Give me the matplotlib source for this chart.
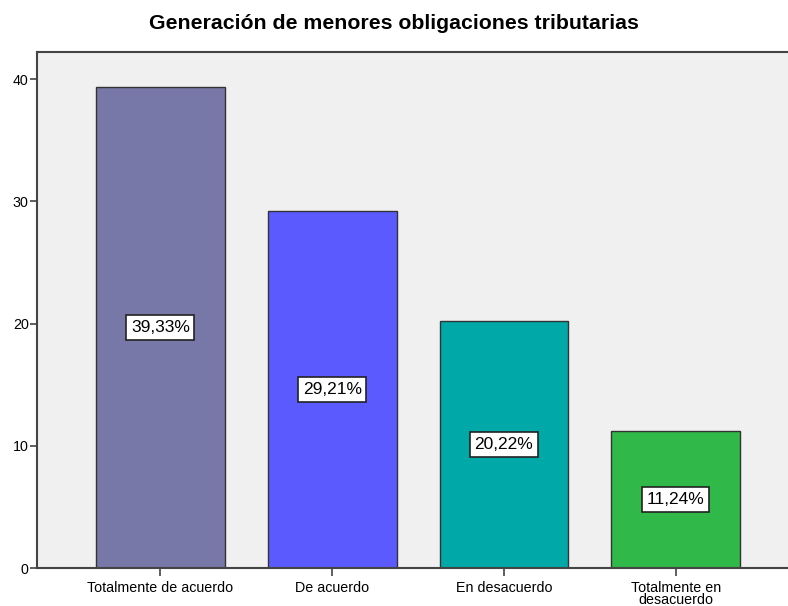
import matplotlib
matplotlib.use('Agg')
import matplotlib.pyplot as plt

plt.rcParams['font.family'] = ['Liberation Sans', 'DejaVu Sans']

# Data
categories = ['Totalmente de acuerdo', 'De acuerdo', 'En desacuerdo', 'Totalmente en\ndesacuerdo']
percents = [39.33, 29.21, 20.22, 11.24]
labels = ['39,33%', '29,21%', '20,22%', '11,24%']
colors = ['#7878A8', '#5A5AFF', '#00A8A8', '#30B848']
yticks = [0, 10, 20, 30, 40]

fig = plt.figure(figsize=(7.88, 6.06), dpi=100)
ax = fig.add_axes([0.047, 0.0627, 0.967, 0.851])
ax.set_facecolor('#F0F0F0')

x = list(range(len(categories)))
ax.bar(x, percents, width=0.75, color=colors, edgecolor='#333333', linewidth=1.0)

for xi, v, lab in zip(x, percents, labels):
    ax.text(xi, v / 2, lab, ha='center', va='center', fontsize=12.5, color='black',
            bbox=dict(boxstyle='square,pad=0.27', facecolor='white', edgecolor='#222222', linewidth=1.2))

ax.set_xlim(-0.718, 3.718)
ax.set_ylim(0, 42.2)
ax.set_yticks(yticks)
ax.set_xticks(x)
ax.set_xticklabels(categories, fontsize=10.3, linespacing=0.85)
ax.tick_params(axis='y', labelsize=10.3, length=5, width=1.2, color='#444444', pad=1)
ax.tick_params(axis='x', length=6, width=1.2, color='#444444', pad=3)

for side in ['left', 'top', 'bottom']:
    ax.spines[side].set_color('#444444')
    ax.spines[side].set_linewidth(1.5)
ax.spines['right'].set_visible(False)

fig.text(0.5, 0.962, 'Generación de menores obligaciones tributarias', ha='center', va='center',
         fontsize=15.3, fontweight='bold')

fig.savefig('out.png', dpi=100)
